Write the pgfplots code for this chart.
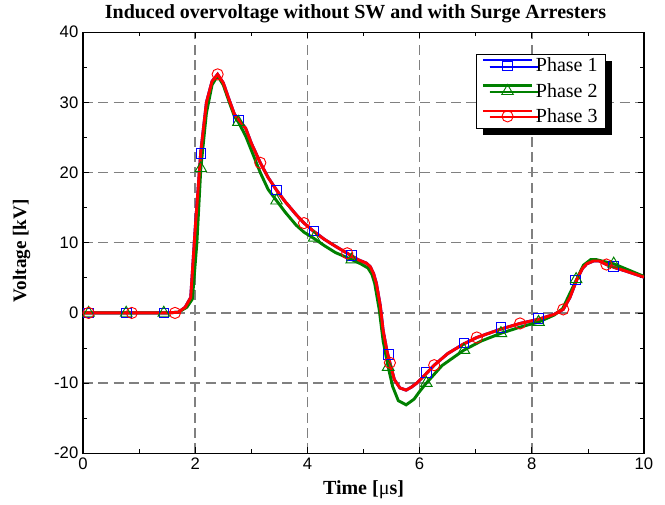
\documentclass[border=0pt]{standalone}
\usepackage{fontspec}
\setmainfont{Liberation Serif}
\setsansfont{Liberation Sans}
\usepackage{pgfplots}
\usepackage{pgfplotstable}
\pgfplotsset{compat=1.18}
\usetikzlibrary{shadows}
\definecolor{mblue}{rgb}{0,0,1}
\definecolor{mgreen}{rgb}{0,0.5,0}
\definecolor{mred}{rgb}{1,0,0}
\definecolor{gridgray}{gray}{0.5}

\pgfplotstableread{
x y
0 0
0.5 0
1.0 0
1.5 0
1.7 0.1
1.82 0.8
1.92 2.2
2.00 12
2.10 23
2.20 30
2.30 33
2.40 34.0
2.50 32.8
2.60 30.5
2.70 28.3
2.80 27.3
2.90 26.3
3.00 24.2
3.16 21.4
3.30 19.3
3.45 17.5
3.60 15.9
3.80 14.0
3.94 12.8
4.10 11.7
4.30 10.5
4.50 9.5
4.71 8.5
4.90 7.6
5.05 7.1
5.12 6.6
5.18 5.6
5.23 4.2
5.30 1
5.35 -2.5
5.42 -5.5
5.47 -7.1
5.55 -9.5
5.65 -10.7
5.76 -11.0
5.85 -10.6
5.95 -10.0
6.10 -8.8
6.26 -7.45
6.50 -5.8
6.79 -4.4
7.02 -3.5
7.45 -2.3
7.79 -1.5
8.12 -0.9
8.40 -0.2
8.56 0.5
8.68 2.2
8.80 4.7
8.90 6.3
8.98 7.0
9.10 7.4
9.20 7.4
9.33 6.9
9.50 6.4
9.70 5.9
10.0 5.1
}\redline

\pgfplotstableread{
x y
0 0
0.5 0
1.0 0
1.5 0
1.7 0.1
1.85 0.8
1.95 2
2.03 10
2.10 20.6
2.20 28.5
2.30 32.5
2.40 33.8
2.50 32.5
2.60 30.2
2.70 28
2.77 27.2
2.90 25.2
3.00 23.2
3.16 20
3.30 17.6
3.45 16.0
3.60 14.4
3.80 12.5
3.94 11.5
4.12 10.6
4.30 9.6
4.50 8.6
4.79 7.6
4.95 7.0
5.08 6.4
5.15 5.5
5.20 4.2
5.28 0.5
5.35 -4
5.44 -7.7
5.52 -10.5
5.62 -12.5
5.76 -13.1
5.90 -12.3
6.00 -11.2
6.12 -10.0
6.40 -7.5
6.79 -5.3
7.10 -4.0
7.45 -2.9
7.80 -2.0
8.12 -1.3
8.40 -0.3
8.55 0.6
8.68 2.8
8.80 4.8
8.92 6.8
9.05 7.6
9.15 7.6
9.30 7.3
9.46 7.0
9.70 6.2
10.0 5.2
}\greenline

\pgfplotstableread{
x y
0.1 0
0.77 0
1.44 0
2.10 22.7
2.77 27.4
3.45 17.5
4.12 11.7
4.79 8.2
5.44 -5.9
6.12 -8.5
6.79 -4.3
7.45 -2.1
8.12 -0.8
8.78 4.7
9.46 6.6
}\bluemarks

\pgfplotstableread{
x y
0.1 0
0.77 0
1.44 0
2.10 20.6
2.77 27.2
3.45 16.0
4.12 10.7
4.79 7.6
5.44 -7.7
6.12 -10.0
6.79 -5.3
7.45 -2.9
8.12 -1.3
8.79 4.8
9.46 7.0
}\greenmarks

\pgfplotstableread{
x y
0.1 0
0.87 0
1.64 0
2.40 34.0
3.16 21.4
3.94 12.8
4.71 8.5
5.47 -7.1
6.26 -7.45
7.02 -3.5
7.79 -1.5
8.56 0.5
9.33 6.9
}\redmarks

\begin{document}
\begin{tikzpicture}
\begin{axis}[name=ax, scale only axis, width=420.75pt, height=315.75pt,
  xmin=0, xmax=10, ymin=-20, ymax=40,
  xtick={0,2,...,10}, ytick={-20,-10,...,40},
  minor x tick num=1, minor y tick num=1,
  tick align=inside, major tick length=4.5pt, minor tick length=3pt,
  tick style={black, line width=0.6pt},
  axis line style={line width=1pt},
  grid=major,
  major grid style={gridgray, line width=1.1pt, dash pattern=on 7.5pt off 4pt},
  ticklabel style={font=\sffamily\fontsize{12.5}{14}\selectfont},
  /pgf/number format/assume math mode=true,
  title={Induced overvoltage without SW and with Surge Arresters},
  every axis title/.style={at={(axis description cs:0.5,1)}, xshift=-6pt, yshift=14pt, anchor=center, font=\bfseries\fontsize{15}{17}\selectfont},
  xlabel={Time [{\mdseries μ}s]},
  every axis x label/.style={at={(axis description cs:0.5,0)}, yshift=-27pt, anchor=center, font=\bfseries\fontsize{15}{17}\selectfont},
  ylabel={Voltage [kV]},
  every axis y label/.style={at={(axis description cs:0,0.5)}, xshift=-46pt, yshift=-6pt, anchor=center, rotate=90, font=\bfseries\fontsize{14.3}{16}\selectfont},
  legend style={at={(axis description cs:1,1)}, xshift=-28.5pt, yshift=-16pt, anchor=north east,
    font=\fontsize{15}{17}\selectfont, draw=black, line width=0.6pt, fill=white,
    drop shadow={shadow xshift=5pt, shadow yshift=-5pt, fill=black, opacity=1},
    row sep=3pt, inner xsep=4pt, inner ysep=1pt,
    /tikz/every even column/.append style={column sep=2pt}},
  legend cell align=left,
  legend image code/.code={\draw[#1] (0pt,4.2pt) -- (37pt,4.2pt); \draw[#1] plot coordinates {(18.5pt,0pt)};},
]
\addlegendimage{mblue, line width=1.6pt, mark=square, mark size=3.6pt, mark options={fill=white, line width=0.7pt}}
\addlegendimage{mgreen, line width=1.6pt, mark=triangle, mark size=5pt, mark options={fill=white, line width=0.7pt}}
\addlegendimage{mred, line width=1.6pt, mark=o, mark size=4.2pt, mark options={fill=white, line width=0.7pt}}
\legend{Phase 1, Phase 2, Phase 3}

\addplot[mblue, line width=2.2pt, forget plot] table {\redline};
\addplot[only marks, mark=square, mark size=3.6pt, draw=mblue, mark options={fill=white, line width=0.7pt}, forget plot] table {\bluemarks};
\addplot[mgreen, line width=2.2pt, forget plot] table {\greenline};
\addplot[only marks, mark=triangle, mark size=5pt, draw=mgreen, mark options={fill=white, line width=0.7pt}, forget plot] table {\greenmarks};
\addplot[mred, line width=2.2pt, forget plot] table {\redline};
\addplot[only marks, mark=o, mark size=4.2pt, draw=mred, mark options={fill=white, line width=0.7pt}, forget plot] table {\redmarks};
\end{axis}
\path[use as bounding box] ([xshift=-62.25pt, yshift=-38.25pt]ax.south west) rectangle ([xshift=15.75pt, yshift=24pt]ax.north east);
\end{tikzpicture}
\end{document}
